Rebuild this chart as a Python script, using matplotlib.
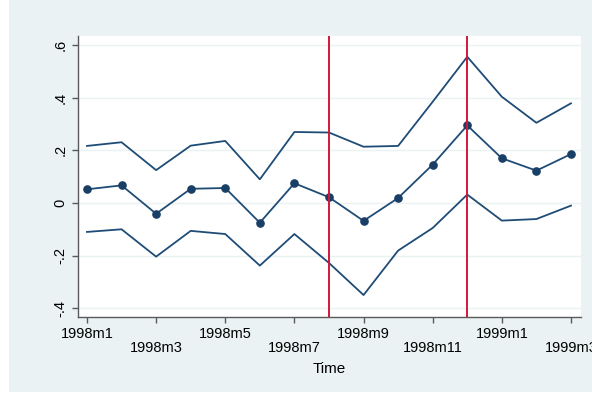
import matplotlib
matplotlib.use("Agg")
import matplotlib.pyplot as plt
from matplotlib.patches import Rectangle

months = ["1998m1", "1998m2", "1998m3", "1998m4", "1998m5", "1998m6", "1998m7",
          "1998m8", "1998m9", "1998m10", "1998m11", "1998m12", "1999m1", "1999m2", "1999m3"]
estimate = [0.052, 0.067, -0.041, 0.054, 0.057, -0.075, 0.075, 0.022, -0.068,
            0.019, 0.146, 0.295, 0.170, 0.123, 0.186]
upper = [0.217, 0.231, 0.125, 0.218, 0.236, 0.090, 0.270, 0.268, 0.214,
         0.217, 0.385, 0.556, 0.404, 0.305, 0.379]
lower = [-0.110, -0.100, -0.204, -0.106, -0.118, -0.238, -0.118, -0.228, -0.350,
         -0.181, -0.095, 0.032, -0.067, -0.061, -0.010]
event_months = ["1998m8", "1998m12"]
xtick_months = ["1998m1", "1998m3", "1998m5", "1998m7", "1998m9", "1998m11", "1999m1", "1999m3"]
ytick_vals = [-0.4, -0.2, 0.0, 0.2, 0.4, 0.6]
ytick_labels = ["-.4", "-.2", "0", ".2", ".4", ".6"]

plt.rcParams['font.family'] = ['Liberation Sans', 'DejaVu Sans']

W, H = 592, 394
fig = plt.figure(figsize=(W / 100, H / 100), dpi=100, facecolor="#eaf2f3")
# thin white margins at the left and bottom edges, as in the reference
fig.patches.append(Rectangle((0, 0), 9 / W, 1, transform=fig.transFigure,
                             facecolor="white", edgecolor="none", zorder=-10))
fig.patches.append(Rectangle((0, 0), 1, 2 / H, transform=fig.transFigure,
                             facecolor="white", edgecolor="none", zorder=-10))

ax = fig.add_axes([78 / W, (H - 317) / H, (581 - 78) / W, (317 - 36) / H])
ax.set_facecolor("white")

x = list(range(len(months)))
navy = "#1f4c76"
ax.plot(x, upper, color=navy, lw=1.3, zorder=3)
ax.plot(x, lower, color=navy, lw=1.3, zorder=3)
ax.plot(x, estimate, color=navy, lw=1.3, marker="o", ms=5.2,
        markerfacecolor="#1a3f66", markeredgecolor="#1a3f66", zorder=4)

for m in event_months:
    ax.axvline(months.index(m), color="#d2173a", lw=1.4, zorder=5)

ax.set_xlim(-0.26, 14.29)
ax.set_ylim(-0.4335, 0.635)

ax.set_yticks(ytick_vals)
ax.set_yticklabels(ytick_labels, rotation=90, va="center", fontsize=10.5)
ax.yaxis.grid(True, color="#eaf2f3", lw=1.0)
ax.set_axisbelow(True)

xt = [months.index(m) for m in xtick_months]
ax.set_xticks(xt)
ax.set_xticklabels(xtick_months, fontsize=10.5)
for i, t in enumerate(ax.xaxis.get_major_ticks()):
    t.set_pad(3 if i % 2 == 0 else 13.5)

for s in ["top", "right"]:
    ax.spines[s].set_visible(False)
for s in ["left", "bottom"]:
    ax.spines[s].set_color("#5a5a5a")
    ax.spines[s].set_linewidth(1.0)
ax.tick_params(axis="both", colors="#5a5a5a", length=4, width=1.0, labelcolor="black")

ax.set_xlabel("Time", fontsize=11, labelpad=5)

fig.savefig("out.png", dpi=100, facecolor=fig.get_facecolor())
